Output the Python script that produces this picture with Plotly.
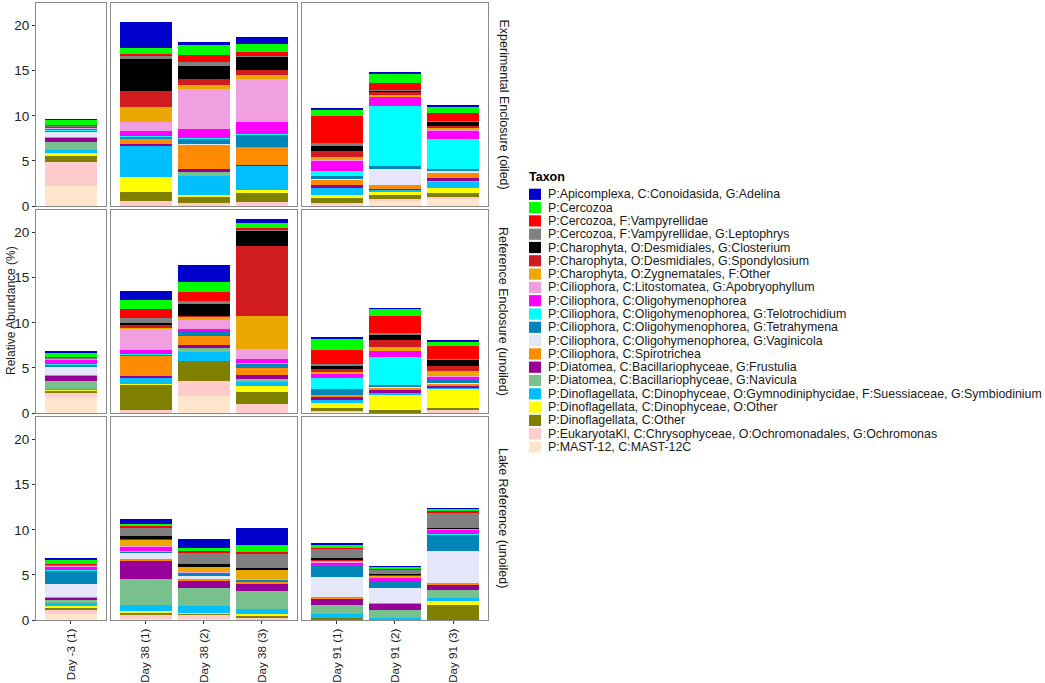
import plotly.graph_objects as go
from plotly.subplots import make_subplots

taxa = [
    "P:Apicomplexa, C:Conoidasida, G:Adelina",
    "P:Cercozoa",
    "P:Cercozoa, F:Vampyrellidae",
    "P:Cercozoa, F:Vampyrellidae, G:Leptophrys",
    "P:Charophyta, O:Desmidiales, G:Closterium",
    "P:Charophyta, O:Desmidiales, G:Spondylosium",
    "P:Charophyta, O:Zygnematales, F:Other",
    "P:Ciliophora, C:Litostomatea, G:Apobryophyllum",
    "P:Ciliophora, C:Oligohymenophorea",
    "P:Ciliophora, C:Oligohymenophorea, G:Telotrochidium",
    "P:Ciliophora, C:Oligohymenophorea, G:Tetrahymena",
    "P:Ciliophora, C:Oligohymenophorea, G:Vaginicola",
    "P:Ciliophora, C:Spirotrichea",
    "P:Diatomea, C:Bacillariophyceae, G:Frustulia",
    "P:Diatomea, C:Bacillariophyceae, G:Navicula",
    "P:Dinoflagellata, C:Dinophyceae, O:Gymnodiniphycidae, F:Suessiaceae, G:Symbiodinium",
    "P:Dinoflagellata, C:Dinophyceae, O:Other",
    "P:Dinoflagellata, C:Other",
    "P:EukaryotaKl, C:Chrysophyceae, O:Ochromonadales, G:Ochromonas",
    "P:MAST-12, C:MAST-12C",
]
colors = ["#0000CD", "#00FF00", "#FF0000", "#808080", "#000000", "#D01C1F",
          "#EBA800", "#F0A0E0", "#FF00FF", "#00FFFF", "#0085B8", "#E6E6FA",
          "#FF8C00", "#960096", "#78C08C", "#00BFFF", "#FFFF00", "#808000",
          "#FFCCCC", "#FFE5CC"]

samples = [["Day -3 (1)"],
           ["Day 38 (1)", "Day 38 (2)", "Day 38 (3)"],
           ["Day 91 (1)", "Day 91 (2)", "Day 91 (3)"]]
treatments = ["Experimental Enclosure (oiled)", "Reference Enclosure (unoiled)",
              "Lake Reference (unoiled)"]

# relative abundance (%) per sample, in taxon order above
oiled_d_3 = [0.02, 0.6, 0.03, 0.15, 0.02, 0.1, 0.02, 0.02, 0.2, 0.02, 0.2, 0.55, 0.02, 0.5, 0.93, 0.3, 0.4, 0.6, 2.68, 2.23]
oiled_d38_1 = [2.83, 0.7, 0.25, 0.33, 3.55, 1.75, 1.63, 1.05, 0.55, 0.02, 0.2, 0.02, 0.67, 0.15, 0.02, 3.4, 1.75, 1.0, 0.47, 0.05]
oiled_d38_2 = [0.33, 1.08, 0.82, 0.4, 1.49, 0.63, 0.45, 4.42, 1.0, 0.02, 0.7, 0.05, 2.68, 0.37, 0.37, 2.1, 0.26, 0.67, 0.3, 0.03]
oiled_d38_3 = [0.78, 0.82, 0.48, 0.05, 1.49, 0.52, 0.52, 4.76, 1.3, 0.02, 1.38, 0.02, 2.0, 0.02, 0.02, 2.7, 0.37, 1.0, 0.42, 0.03]
oiled_d91_1 = [0.22, 0.7, 3.0, 0.3, 0.6, 0.6, 0.4, 0.02, 1.15, 0.52, 0.4, 0.03, 0.6, 0.3, 0.02, 0.82, 0.26, 0.6, 0.15, 0.18]
oiled_d91_2 = [0.15, 1.04, 0.82, 0.08, 0.08, 0.37, 0.22, 0.02, 1.04, 6.6, 0.3, 1.78, 0.45, 0.05, 0.03, 0.22, 0.45, 0.37, 0.3, 0.5]
oiled_d91_3 = [0.1, 0.67, 0.93, 0.03, 0.45, 0.22, 0.26, 0.02, 1.0, 3.27, 0.2, 0.33, 0.52, 0.33, 0.02, 0.78, 0.52, 0.48, 0.12, 0.85]

ref_d_3 = [0.1, 0.52, 0.05, 0.03, 0.05, 0.05, 0.02, 0.02, 0.52, 0.02, 0.22, 0.97, 0.02, 0.63, 0.86, 0.1, 0.15, 0.22, 0.52, 1.72]
ref_d38_1 = [1.0, 1.0, 0.97, 0.48, 0.3, 0.22, 0.15, 2.43, 0.41, 0.02, 0.15, 0.02, 2.2, 0.2, 0.02, 0.67, 0.1, 2.84, 0.28, 0.02]
ref_d38_2 = [1.9, 1.08, 0.97, 0.41, 1.34, 0.02, 0.37, 1.0, 0.2, 0.02, 0.52, 0.02, 1.0, 0.37, 0.37, 1.0, 0.02, 2.28, 1.57, 1.94]
ref_d38_3 = [0.45, 0.45, 0.22, 0.15, 1.68, 7.76, 3.62, 1.12, 0.45, 0.02, 0.52, 0.02, 0.75, 0.52, 0.3, 0.45, 0.6, 1.34, 1.0, 0.04]
ref_d91_1 = [0.07, 1.3, 1.5, 0.26, 0.37, 0.26, 0.2, 0.02, 0.48, 1.23, 0.6, 0.02, 0.26, 0.22, 0.02, 0.37, 0.63, 0.33, 0.08, 0.12]
ref_d91_2 = [0.02, 0.75, 1.87, 0.2, 0.67, 0.67, 0.45, 0.02, 0.7, 3.05, 0.26, 0.02, 0.37, 0.2, 0.02, 0.2, 1.8, 0.24, 0.02, 0.02]
ref_d91_3 = [0.07, 0.52, 1.45, 0.02, 0.7, 0.6, 0.52, 0.02, 0.4, 0.02, 0.37, 0.02, 0.2, 0.22, 0.02, 0.15, 2.13, 0.2, 0.35, 0.02]

lake_d_3 = [0.02, 0.6, 0.05, 0.02, 0.02, 0.02, 0.02, 0.05, 0.45, 0.02, 1.56, 1.45, 0.02, 0.26, 0.37, 0.22, 0.22, 0.22, 0.52, 0.67]
lake_d38_1 = [0.52, 0.26, 0.2, 0.85, 0.41, 0.02, 0.74, 0.02, 0.56, 0.02, 0.15, 0.7, 0.1, 2.1, 2.9, 0.6, 0.22, 0.26, 0.5, 0.06]
lake_d38_2 = [0.93, 0.37, 0.15, 1.3, 0.3, 0.02, 0.56, 0.02, 0.1, 0.02, 0.3, 0.3, 0.2, 0.78, 2.08, 0.74, 0.02, 0.2, 0.5, 0.06]
lake_d38_3 = [1.9, 0.7, 0.26, 1.52, 0.2, 0.02, 1.04, 0.02, 0.05, 0.02, 0.22, 0.02, 0.22, 0.74, 2.08, 0.52, 0.26, 0.1, 0.28, 0.02]
lake_d91_1 = [0.15, 0.33, 0.1, 1.04, 0.22, 0.02, 0.2, 0.02, 0.37, 0.02, 1.3, 2.2, 0.15, 0.67, 1.04, 0.4, 0.02, 0.2, 0.02, 0.02]
lake_d91_2 = [0.02, 0.26, 0.1, 0.45, 0.15, 0.02, 0.26, 0.02, 0.33, 0.02, 0.74, 1.67, 0.15, 0.7, 0.82, 0.15, 0.02, 0.05, 0.02, 0.02]
lake_d91_3 = [0.02, 0.26, 0.2, 1.67, 0.02, 0.08, 0.02, 0.02, 0.52, 0.02, 1.82, 3.6, 0.15, 0.56, 0.96, 0.3, 0.48, 1.6, 0.02, 0.02]

rows_data = [
    [[oiled_d_3], [oiled_d38_1, oiled_d38_2, oiled_d38_3], [oiled_d91_1, oiled_d91_2, oiled_d91_3]],
    [[ref_d_3], [ref_d38_1, ref_d38_2, ref_d38_3], [ref_d91_1, ref_d91_2, ref_d91_3]],
    [[lake_d_3], [lake_d38_1, lake_d38_2, lake_d38_3], [lake_d91_1, lake_d91_2, lake_d91_3]],
]

W, H = 1045, 683
L, R, T, B = 36, 488, 3, 620   # plot area in pixels
FONT = "Liberation Sans, Arial, sans-serif"

fig = make_subplots(rows=3, cols=3, column_widths=[1.2, 3.2, 3.2],
                    horizontal_spacing=5 / (R - L), vertical_spacing=4 / (B - T))

for r in range(3):
    for c in range(3):
        sample_vals = rows_data[r][c]
        # draw bottom of stack first (last taxon) so Adelina ends on top
        for k in reversed(range(len(taxa))):
            fig.add_trace(go.Bar(
                x=samples[c], y=[v[k] for v in sample_vals],
                marker=dict(color=colors[k], line=dict(width=0)),
                name=taxa[k], showlegend=False,
                hovertemplate="%{x}<br>" + taxa[k] + ": %{y}%<extra></extra>"),
                row=r + 1, col=c + 1)
        fig.update_xaxes(range=[-0.6, len(samples[c]) - 0.4], row=r + 1, col=c + 1,
                         automargin=False,
                         showline=True, mirror=True, linecolor="#8a8a8a", linewidth=1,
                         showgrid=False, zeroline=False,
                         ticks="outside" if r == 2 else "", ticklen=3, tickcolor="#333",
                         showticklabels=(r == 2), tickangle=-90,
                         tickfont=dict(family=FONT, size=11.6, color="#222"))
        fig.update_yaxes(range=[0, 22.5], row=r + 1, col=c + 1,
                         automargin=False,
                         showline=True, mirror=True, linecolor="#8a8a8a", linewidth=1,
                         showgrid=False, zeroline=False,
                         tickvals=[0, 5, 10, 15, 20],
                         ticks="outside" if c == 0 else "", ticklen=3, tickcolor="#333",
                         showticklabels=(c == 0),
                         tickfont=dict(family=FONT, size=13.5, color="#222"))


def px_x(p):
    return (p - L) / (R - L)


def px_y(p):
    return (B - p) / (B - T)


annotations = []
shapes = []
row_centers = [104.5, 311, 518]
for r, name in enumerate(treatments):
    annotations.append(dict(x=px_x(503), y=px_y(row_centers[r]), xref="paper", yref="paper",
                            xanchor="center", yanchor="middle",
                            text=name, textangle=90, showarrow=False,
                            font=dict(family=FONT, size=12.5, color="#1a1a1a")))

annotations.append(dict(x=px_x(11), y=px_y(311), xref="paper", yref="paper",
                        xanchor="center", yanchor="middle",
                        text="Relative Abundance (%)", textangle=-90, showarrow=False,
                        font=dict(family=FONT, size=12, color="#1a1a1a")))

# legend drawn as keys + labels so its spacing matches the original
annotations.append(dict(x=px_x(527), y=px_y(177), xref="paper", yref="paper",
                        text="<b>Taxon</b>", xanchor="left", yanchor="middle", showarrow=False,
                        font=dict(family=FONT, size=12.5, color="#000")))
for i, (name, col) in enumerate(zip(taxa, colors)):
    yc = 194.3 + i * 13.3
    shapes.append(dict(type="rect", xref="paper", yref="paper",
                       x0=px_x(529), x1=px_x(541), y0=px_y(yc - 5.6), y1=px_y(yc + 5.6),
                       fillcolor=col, line=dict(width=0)))
    annotations.append(dict(x=px_x(546), y=px_y(yc), xref="paper", yref="paper",
                            text=name, xanchor="left", yanchor="middle", showarrow=False,
                            font=dict(family=FONT, size=12.4, color="#1a1a1a")))

fig.update_layout(width=W, height=H, barmode="stack", bargap=0.1,
                  margin=dict(l=L, r=W - R, t=T, b=H - B),
                  plot_bgcolor="white", paper_bgcolor="white",
                  showlegend=False, annotations=annotations, shapes=shapes,
                  font=dict(family=FONT))

# the page's default body margin would push the fixed-size figure off the window
fig.write_html("out.html", config={"displayModeBar": False},
               post_script="document.body.style.margin='0';")
